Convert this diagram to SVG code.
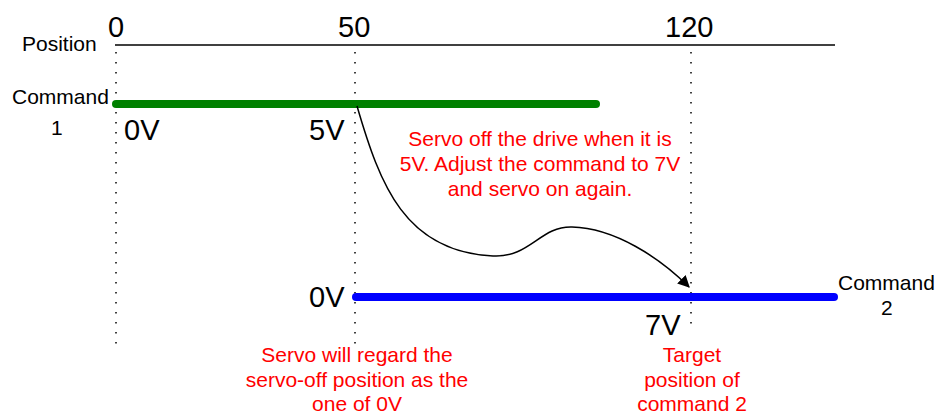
<svg xmlns="http://www.w3.org/2000/svg" width="938" height="414" viewBox="0 0 938 414">
<style>
text{font-family:"Liberation Sans",Arial,sans-serif;}
.lbl{font-size:21px;fill:#000;}
.big{font-size:29px;fill:#000;}
.red{font-size:21px;fill:#ff0000;text-anchor:middle;}
.dot{stroke:#000;stroke-width:1.5;stroke-dasharray:1.5 8.5;fill:none;}
</style>
<defs>
<marker id="ah" viewBox="0 0 10 10" refX="9" refY="5" markerWidth="12" markerHeight="12" markerUnits="userSpaceOnUse" orient="auto">
<path d="M0,0 L10,5 L0,10 z" fill="#000"/>
</marker>
</defs>
<g id="axis">
<line x1="115" y1="45" x2="835" y2="45" stroke="#000" stroke-width="1.3"/>
<text class="lbl" x="22" y="51">Position</text>
<text class="big" x="108" y="37">0</text>
<text class="big" x="338" y="37">50</text>
<text class="big" x="665" y="37">120</text>
</g>
<g id="guides">
<line class="dot" x1="116" y1="52" x2="116" y2="345"/>
<line class="dot" x1="355" y1="52" x2="355" y2="345"/>
<line class="dot" x1="691" y1="52" x2="691" y2="330"/>
</g>
<g id="command1">
<line x1="116" y1="104" x2="596" y2="104" stroke="#008000" stroke-width="8" stroke-linecap="round"/>
<text class="lbl" x="12" y="104">Command</text>
<text class="lbl" x="51" y="135">1</text>
<text class="big" x="124" y="140">0V</text>
<text class="big" x="309" y="140">5V</text>
</g>
<g id="command2">
<line x1="356" y1="297" x2="834" y2="297" stroke="#0000ff" stroke-width="8" stroke-linecap="round"/>
<text class="lbl" x="838" y="290">Command</text>
<text class="lbl" x="881" y="315">2</text>
<text class="big" x="309" y="307">0V</text>
<text class="big" x="645" y="335">7V</text>
</g>
<g id="connectors">
<path d="M357,106 C380,185 405,252 493,256 C530,258 540,226 572,227 C615,228 660,258 689,287" fill="none" stroke="#000" stroke-width="1.5" marker-end="url(#ah)"/>
</g>
<g id="note1">
<text class="red" x="540" y="146">Servo off the drive when it is</text>
<text class="red" x="540" y="171">5V. Adjust the command to 7V</text>
<text class="red" x="540" y="196">and servo on again.</text>
</g>
<g id="note2">
<text class="red" x="357" y="362">Servo will regard the</text>
<text class="red" x="357" y="387">servo-off position as the</text>
<text class="red" x="357" y="411">one of 0V</text>
</g>
<g id="note3">
<text class="red" x="692" y="362">Target</text>
<text class="red" x="692" y="387">position of</text>
<text class="red" x="692" y="411">command 2</text>
</g>
</svg>
